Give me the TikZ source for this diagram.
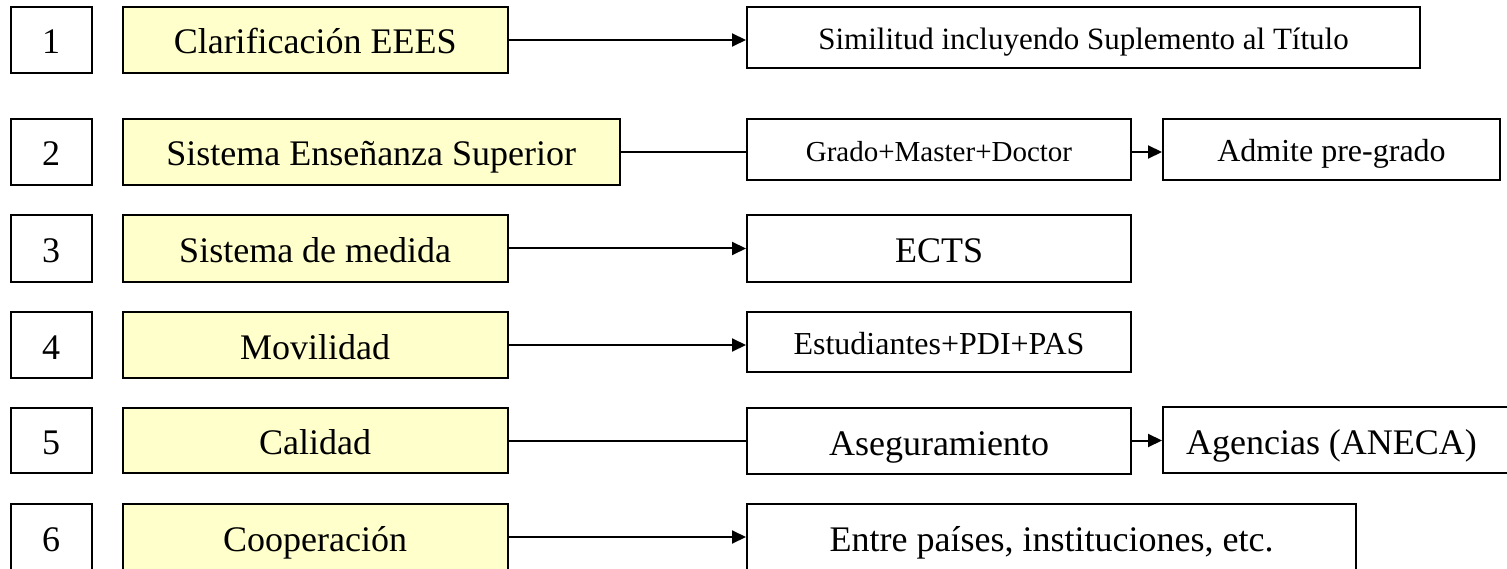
\documentclass[tikz,border=0pt]{standalone}
\usepackage{fontspec}
\setmainfont{Liberation Serif}
\usetikzlibrary{arrows.meta}
\definecolor{paleyellow}{RGB}{255,255,204}
\tikzset{
  box/.style={draw=black, line width=2pt, rectangle, inner sep=0pt, anchor=north west, align=center, text height=29pt, text depth=1pt},
  numbox/.style={box, fill=white, minimum width=81pt, font=\fontsize{36}{40}\selectfont},
  ybox/.style={box, fill=paleyellow, font=\fontsize{36}{40}\selectfont},
  rbox/.style={box, fill=white},
  small/.style={text height=26pt, text depth=1pt},
  arr/.style={line width=2pt, -{Triangle[length=14pt,width=13pt]}},
  ln/.style={line width=2pt},
  big/.style={font=\fontsize{36}{40}\selectfont},
}
\begin{document}
\begin{tikzpicture}[x=1pt,y=-1pt]
\useasboundingbox (0,0) rectangle (1507,569);
% row 1
\node[numbox, minimum height=66pt] (n1) at (9.7,6) {1};
\node[ybox, minimum width=385pt, minimum height=66pt] (y1) at (121.7,6) {Clarificación EEES};
\node[rbox, small, minimum width=673pt, minimum height=61pt, font=\fontsize{31}{35}\selectfont] (r1) at (746,6) {Similitud incluyendo Suplemento al Título};
\draw[arr] (y1.east) -- (r1.west |- y1.east);
% row 2
\node[numbox, minimum height=66pt] (n2) at (9.7,118) {2};
\node[ybox, minimum width=497pt, minimum height=66pt] (y2) at (121.7,118) {Sistema Enseñanza Superior};
\node[rbox, small, minimum width=384pt, minimum height=61pt, font=\fontsize{29}{33}\selectfont] (g2) at (746,118) {Grado+Master+Doctor};
\node[rbox, small, minimum width=337pt, minimum height=61pt, font=\fontsize{32}{36}\selectfont] (a2) at (1162,118) {Admite pre-grado};
\draw[ln] (y2.east) -- (g2.west |- y2.east);
\draw[arr] (g2.east |- y2.east) -- (a2.west |- y2.east);
% row 3
\node[numbox, minimum height=67pt] (n3) at (9.7,214) {3};
\node[ybox, minimum width=385pt, minimum height=67pt] (y3) at (121.7,214) {Sistema de medida};
\node[rbox, minimum width=384pt, minimum height=67pt, big] (r3) at (746,214) {ECTS};
\draw[arr] (y3.east) -- (r3.west |- y3.east);
% row 4
\node[numbox, minimum height=66pt] (n4) at (9.7,311) {4};
\node[ybox, minimum width=385pt, minimum height=66pt] (y4) at (121.7,311) {Movilidad};
\node[rbox, small, minimum width=384pt, minimum height=60pt, font=\fontsize{32}{36}\selectfont] (r4) at (746,311) {Estudiantes+PDI+PAS};
\draw[arr] (y4.east) -- (r4.west |- y4.east);
% row 5
\node[numbox, minimum height=65pt] (n5) at (9.7,407) {5};
\node[ybox, minimum width=385pt, minimum height=65pt] (y5) at (121.7,407) {Calidad};
\node[rbox, minimum width=384pt, minimum height=66pt, big] (g5) at (746,407) {Aseguramiento};
\node[rbox, minimum width=360pt, minimum height=66pt, big, anchor=west] (a5) at (1162,440) {\hspace*{-23pt}Agencias (ANECA)};
\draw[ln] (y5.east) -- (g5.west |- y5.east);
\draw[arr] (g5.east |- y5.east) -- (a5.west |- y5.east);
% row 6
\node[numbox, minimum height=66pt] (n6) at (9.7,503) {6};
\node[ybox, minimum width=385pt, minimum height=66pt] (y6) at (121.7,503) {Cooperación};
\node[rbox, minimum width=609pt, minimum height=66pt, big] (r6) at (746,503) {Entre países, instituciones, etc.};
\draw[arr] (y6.east) -- (r6.west |- y6.east);
\end{tikzpicture}
\end{document}
